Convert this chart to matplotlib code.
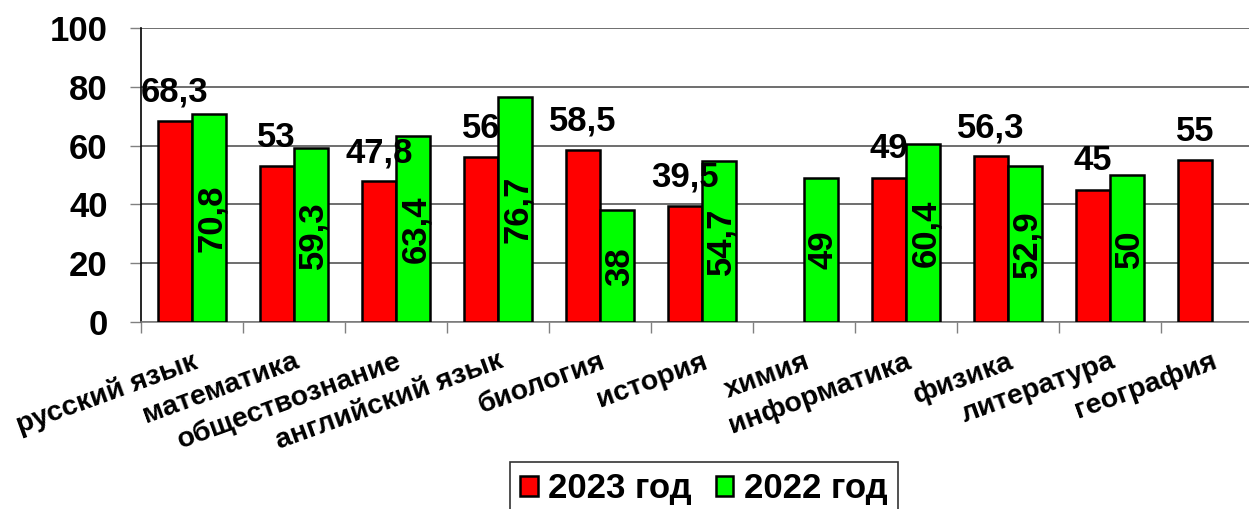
import numpy as np
import matplotlib.pyplot as plt
from matplotlib.ticker import FixedLocator

plt.rcParams['font.family'] = ['Liberation Sans', 'DejaVu Sans']
plt.rcParams['font.weight'] = 'bold'

subjects = ['русский язык', 'математика', 'обществознание', 'английский язык',
            'биология', 'история', 'химия', 'информатика', 'физика',
            'литература', 'география']
y2023 = [68.3, 53, 47.8, 56, 58.5, 39.5, np.nan, 49, 56.3, 45, 55]
y2022 = [70.8, 59.3, 63.4, 76.7, 38, 54.7, 49, 60.4, 52.9, 50, np.nan]
series_names = ['2023 год', '2022 год']


def fmt(v):
    return ('%g' % v).replace('.', ',')


W, H = 1249, 509
fig = plt.figure(figsize=(W / 100, H / 100), dpi=100)
# plot area runs a bit past the right edge of the picture, like the original
ax = fig.add_axes([141 / W, (H - 322) / H, 1122 / W, 294 / H])

x = np.arange(len(subjects))
bw = 0.338
b1 = ax.bar(x - bw / 2, y2023, bw, color='#ff0000', edgecolor='black',
            linewidth=1.8, label=series_names[0], zorder=3)
b2 = ax.bar(x + bw / 2, y2022, bw, color='#00ff00', edgecolor='black',
            linewidth=1.8, label=series_names[1], zorder=3)

# labels: 2023 above the bars, 2022 rotated inside the bars
for xi, v in zip(x, y2023):
    if not np.isnan(v):
        ax.annotate(fmt(v), (xi - bw / 2, v), xytext=(0, 14),
                    textcoords='offset points', ha='center', va='baseline',
                    fontsize=25, fontweight='bold', zorder=5)
for xi, v in zip(x, y2022):
    if not np.isnan(v):
        ax.text(xi + bw / 2 + 0.02, v / 2, fmt(v), rotation=90, ha='center',
                va='center', fontsize=25, fontweight='bold', zorder=5)

ax.set_xlim(-0.5, len(subjects) - 0.5)
ax.set_ylim(0, 100)
ax.set_yticks(range(0, 101, 20))
ax.tick_params(axis='y', labelsize=25, length=8, width=1, color='#808080', pad=16)
for lab in ax.get_yticklabels():
    lab.set_fontweight('bold')
ax.yaxis.grid(True, color='#555555', linewidth=1.2, zorder=0)
ax.set_axisbelow(True)

ax.set_xticks(x)
ax.set_xticklabels(subjects, rotation=20, ha='right', va='top',
                   rotation_mode='anchor', fontsize=20.5, fontweight='bold')
ax.tick_params(axis='x', length=0, pad=19)
ax.xaxis.set_minor_locator(FixedLocator(np.arange(-0.5, len(subjects), 1)))
ax.tick_params(axis='x', which='minor', length=8, width=1, color='#808080')

for s in ['top', 'right']:
    ax.spines[s].set_visible(False)
ax.spines['left'].set_color('black')
ax.spines['left'].set_linewidth(1.2)
ax.spines['bottom'].set_color('#808080')
ax.spines['bottom'].set_linewidth(1.2)

leg = fig.legend(handles=[b1, b2], loc='upper left',
                 bbox_to_anchor=(510 / W, 1 - 462 / H), ncol=2,
                 prop={'weight': 'bold', 'size': 25},
                 frameon=True, fancybox=False, edgecolor='black',
                 handlelength=0.5, handleheight=0.5, handletextpad=0.3,
                 columnspacing=0.7, borderpad=0.3, borderaxespad=0)
leg.get_frame().set_linewidth(1.2)

fig.savefig('out.png', dpi=100)
